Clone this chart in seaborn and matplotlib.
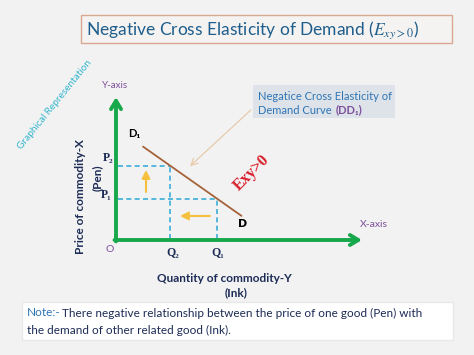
import matplotlib
matplotlib.use("Agg")
import matplotlib.pyplot as plt
from matplotlib.patches import Rectangle
import seaborn as sns
import pandas as pd

# diagram values (quantity 0-10, price 0-10)
axis_max = 10
demand_q = [1.1, 5.1]
demand_p = [6.53, 1.69]
price_levels = {"P2": 5.2, "P1": 2.9}
qty_levels = {"Q2": 2.2, "Q1": 4.1}
up_arrow = ([1.22, 3.36], [1.22, 4.9])
left_arrow = ([3.82, 1.68], [2.6, 1.68])

sns.set_theme(style="white")
plt.rcParams["font.family"] = ["Lato", "DejaVu Sans"]
plt.rcParams["mathtext.fontset"] = "stix"

W, H = 474, 355
fig = plt.figure(figsize=(W / 100, H / 100), dpi=100)
fig.patch.set_facecolor("#f2f2f2")
renderer = fig.canvas.get_renderer()


def px(x, y):
    return x / W, 1 - y / H


def ftext(x, y, s, **kw):
    return fig.text(*px(x, y), s, **kw)


def right_edge(t):
    return t.get_window_extent(renderer).x1


def fbox(x0, y0, x1, y1, fc, ec, lw=1.0):
    fig.patches.append(Rectangle(px(x0, y1), (x1 - x0) / W, (y1 - y0) / H,
                                 transform=fig.transFigure, fc=fc, ec=ec, lw=lw))


# title box
fbox(81, 15, 452, 43, "#f5f3f2", "#d8a990", 1.0)
ftext(86, 30, r"Negative Cross Elasticity of Demand ($E_{xy>0}$)",
      color="#1f5e8c", fontsize=12.5, va="center", ha="left")

ftext(55, 105, "Graphical Representation", color="#33b5cf", fontsize=7.2,
      rotation=51, ha="center", va="center")

# diagram axes
ax = fig.add_axes([116 / W, (H - 240) / H, 246 / W, 143 / H])
ax.set_xlim(0, axis_max)
ax.set_ylim(0, axis_max)
ax.set_axis_off()

green = "#17a84b"
for tip, start in (((0, axis_max), (0, -0.1)), ((axis_max, 0), (-0.06, 0))):
    ax.annotate("", xy=tip, xytext=start,
                arrowprops=dict(arrowstyle="->,head_length=0.5,head_width=0.3",
                                color=green, lw=2.8, shrinkA=0, shrinkB=0),
                annotation_clip=False)

dash = "#3aaed8"
for p, q in zip(price_levels.values(), qty_levels.values()):
    ax.plot([0.08, q], [p, p], color=dash, lw=1.2, dashes=(3, 2))
    ax.plot([q, q], [0.08, p], color=dash, lw=1.2, dashes=(3, 2))

df = pd.DataFrame({"q": demand_q, "p": demand_p})
sns.lineplot(data=df, x="q", y="p", ax=ax, color="#a5623a", lw=1.3)
ax.set_xlim(0, axis_max)
ax.set_ylim(0, axis_max)

yellow = "#f4c03e"
for a in (up_arrow, left_arrow):
    ax.annotate("", xy=a[1], xytext=a[0],
                arrowprops=dict(arrowstyle="-|>,head_length=0.4,head_width=0.2",
                                color=yellow, lw=1.5, shrinkA=0, shrinkB=0))

# labels
purple = "#7d4f9c"
navy = "#1d2c56"
serif = ["Liberation Serif", "DejaVu Serif"]
ftext(115, 85, "Y-axis", color=purple, fontsize=7, ha="center", va="center")
ftext(374, 224, "X-axis", color=purple, fontsize=7.5, ha="center", va="center")
ftext(110, 250, "O", color=purple, fontsize=7.5, ha="center", va="center")
ftext(134, 134, "D\u2081", color="black", fontsize=8, fontweight="bold", ha="center", va="center")
ftext(243, 224, "D", color="black", fontsize=8, fontweight="bold", ha="center", va="center",
      family="DejaVu Sans")
ftext(108, 158, "P\u2082", color=navy, fontsize=8.5, fontweight="bold", family=serif,
      ha="center", va="center")
ftext(106, 195, "P\u2081", color=navy, fontsize=8.5, fontweight="bold", family=serif,
      ha="center", va="center")
ftext(173, 253, "Q\u2082", color=navy, fontsize=8.5, fontweight="bold", family=serif,
      ha="center", va="center")
ftext(218, 253, "Q\u2081", color=navy, fontsize=8.5, fontweight="bold", family=serif,
      ha="center", va="center")

ftext(80, 197, "Price of commodity-X", color=navy, fontsize=8.5, fontweight="bold",
      rotation=90, ha="center", va="center")
ftext(97, 178, "(Pen)", color=navy, fontsize=8.5, fontweight="bold",
      rotation=90, ha="center", va="center")
ftext(224, 279, "Quantity of commodity-Y", color=navy, fontsize=8.5, fontweight="bold",
      ha="center", va="center")
ftext(236, 293, "(Ink)", color=navy, fontsize=8.5, fontweight="bold",
      ha="center", va="center")

ftext(252, 173, "Exy>0", color="#d81e2a", fontsize=11.5, fontweight="bold", family=serif,
      rotation=45, ha="center", va="center")

# annotation box
fbox(253, 85, 395, 118, "#dde3e8", "none")
ax.annotate("", xy=px(188, 168), xycoords="figure fraction",
            xytext=px(253, 108), textcoords="figure fraction",
            arrowprops=dict(arrowstyle="->", color="#e6c6a6", lw=0.8))
blue = "#2e74b5"
ftext(258, 96, "Negatice Cross Elasticity of", color=blue, fontsize=8, va="center")
t = ftext(258, 110, "Demand Curve ", color=blue, fontsize=8, va="center")
fig.text(right_edge(t) / W + 1 / W, 1 - 110 / H, "(DD\u2081)", color=purple, fontsize=8,
         fontweight="bold", va="center")

# note box
fbox(22, 302, 453, 340, "#ffffff", "#e8e8e8")
t = ftext(27, 313, "Note:-", color=blue, fontsize=8.5, va="center")
fig.text(right_edge(t) / W + 1.5 / W, 1 - 313 / H,
         "There negative relationship between the price of one good (Pen) with",
         color=navy, fontsize=8.5, va="center")
ftext(27, 330, "the demand of other related good (Ink).", color=navy, fontsize=8.5, va="center")

fig.savefig("out.png", dpi=100, facecolor=fig.get_facecolor())
